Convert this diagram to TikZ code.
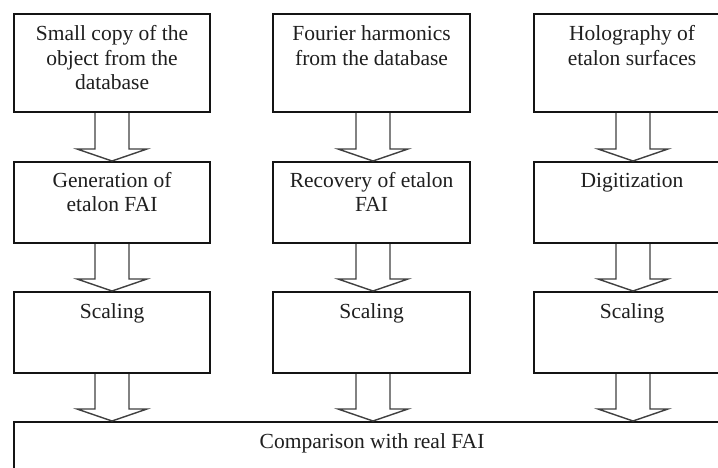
\documentclass[tikz,border=0pt]{standalone}
\usepackage{fontspec}
\setmainfont{Liberation Serif}
\usetikzlibrary{calc}

\tikzset{
  box/.style={draw=black!92, line width=2.1pt, rectangle, inner sep=0pt, fill=white},
  lbl/.style={inner sep=0pt, align=center, text=black!88,
              font=\fontsize{21.5}{24.5}\selectfont},
  barrow/.style={draw=black!75, line width=1.4pt, fill=white, line join=miter},
}

% hollow block arrow from the bottom of box #1 to the top of box #2,
% centred on the vertical through coordinate #3
\newcommand{\blockarrow}[3]{%
  \draw[barrow] ($(#1.south -| #3)+(-17,0)$)
    -- ($(#2.north -| #3)+(-17,-12)$) -- ++(-18,0)
    -- (#2.north -| #3) -- ++(35,-12) -- ++(-18,0)
    -- ($(#1.south -| #3)+(17,0)$);
}

\begin{document}
\begin{tikzpicture}[x=1pt, y=-1pt]
  \clip (0,0) rectangle (718,468);
  \fill[white] (0,0) rectangle (718,468);

  % arrow axes of the three columns
  \coordinate (c1) at (112,0);
  \coordinate (c2) at (373,0);
  \coordinate (c3) at (633,0);

  % first row
  \node[box, anchor=north west, minimum width=196pt, minimum height=98pt] (b11) at (13,13) {};
  \node[box, anchor=north west, minimum width=197pt, minimum height=98pt] (b21) at (272,13) {};
  \node[box, anchor=north west, minimum width=196pt, minimum height=98pt] (b31) at (533,13) {};

  % second row
  \node[box, anchor=north west, minimum width=196pt, minimum height=81pt] (b12) at (13,161) {};
  \node[box, anchor=north west, minimum width=197pt, minimum height=81pt] (b22) at (272,161) {};
  \node[box, anchor=north west, minimum width=196pt, minimum height=81pt] (b32) at (533,161) {};

  % third row
  \node[box, anchor=north west, minimum width=196pt, minimum height=81pt] (b13) at (13,291) {};
  \node[box, anchor=north west, minimum width=197pt, minimum height=81pt] (b23) at (272,291) {};
  \node[box, anchor=north west, minimum width=196pt, minimum height=81pt] (b33) at (533,291) {};

  % common bottom box
  \node[box, anchor=north west, minimum width=716pt, minimum height=90pt] (cmp) at (13,421) {};

  % arrows
  \blockarrow{b11}{b12}{c1}
  \blockarrow{b21}{b22}{c2}
  \blockarrow{b31}{b32}{c3}
  \blockarrow{b12}{b13}{c1}
  \blockarrow{b22}{b23}{c2}
  \blockarrow{b32}{b33}{c3}
  \blockarrow{b13}{cmp}{c1}
  \blockarrow{b23}{cmp}{c2}
  \blockarrow{b33}{cmp}{c3}

  % texts
  \node[lbl, anchor=north] (t11) at ($(b11.north)+(0,10.5)$) {\strut Small copy of the\\object from the\\database};
  \node[lbl, anchor=north] (t21) at ($(b21.north)+(0,10.5)$) {\strut Fourier harmonics\\from the database};
  \node[lbl, anchor=north] (t31) at ($(b31.north)+(0,10.5)$) {\strut Holography of\\etalon surfaces};

  \node[lbl, anchor=north] (t12) at ($(b12.north)+(0,9)$) {\strut Generation of\\etalon FAI};
  \node[lbl, anchor=north] (t22) at ($(b22.north)+(0,9)$) {\strut Recovery of etalon\\FAI};
  \node[lbl, anchor=north] (t32) at ($(b32.north)+(0,9)$) {\strut Digitization};

  \node[lbl, anchor=north] (t13) at ($(b13.north)+(0,10)$) {\strut Scaling};
  \node[lbl, anchor=north] (t23) at ($(b23.north)+(0,10)$) {\strut Scaling};
  \node[lbl, anchor=north] (t33) at ($(b33.north)+(0,10)$) {\strut Scaling};

  \node[lbl, anchor=north] (tc) at ($(cmp.north)+(0,10.5)$) {\strut Comparison with real FAI};
\end{tikzpicture}
\end{document}
